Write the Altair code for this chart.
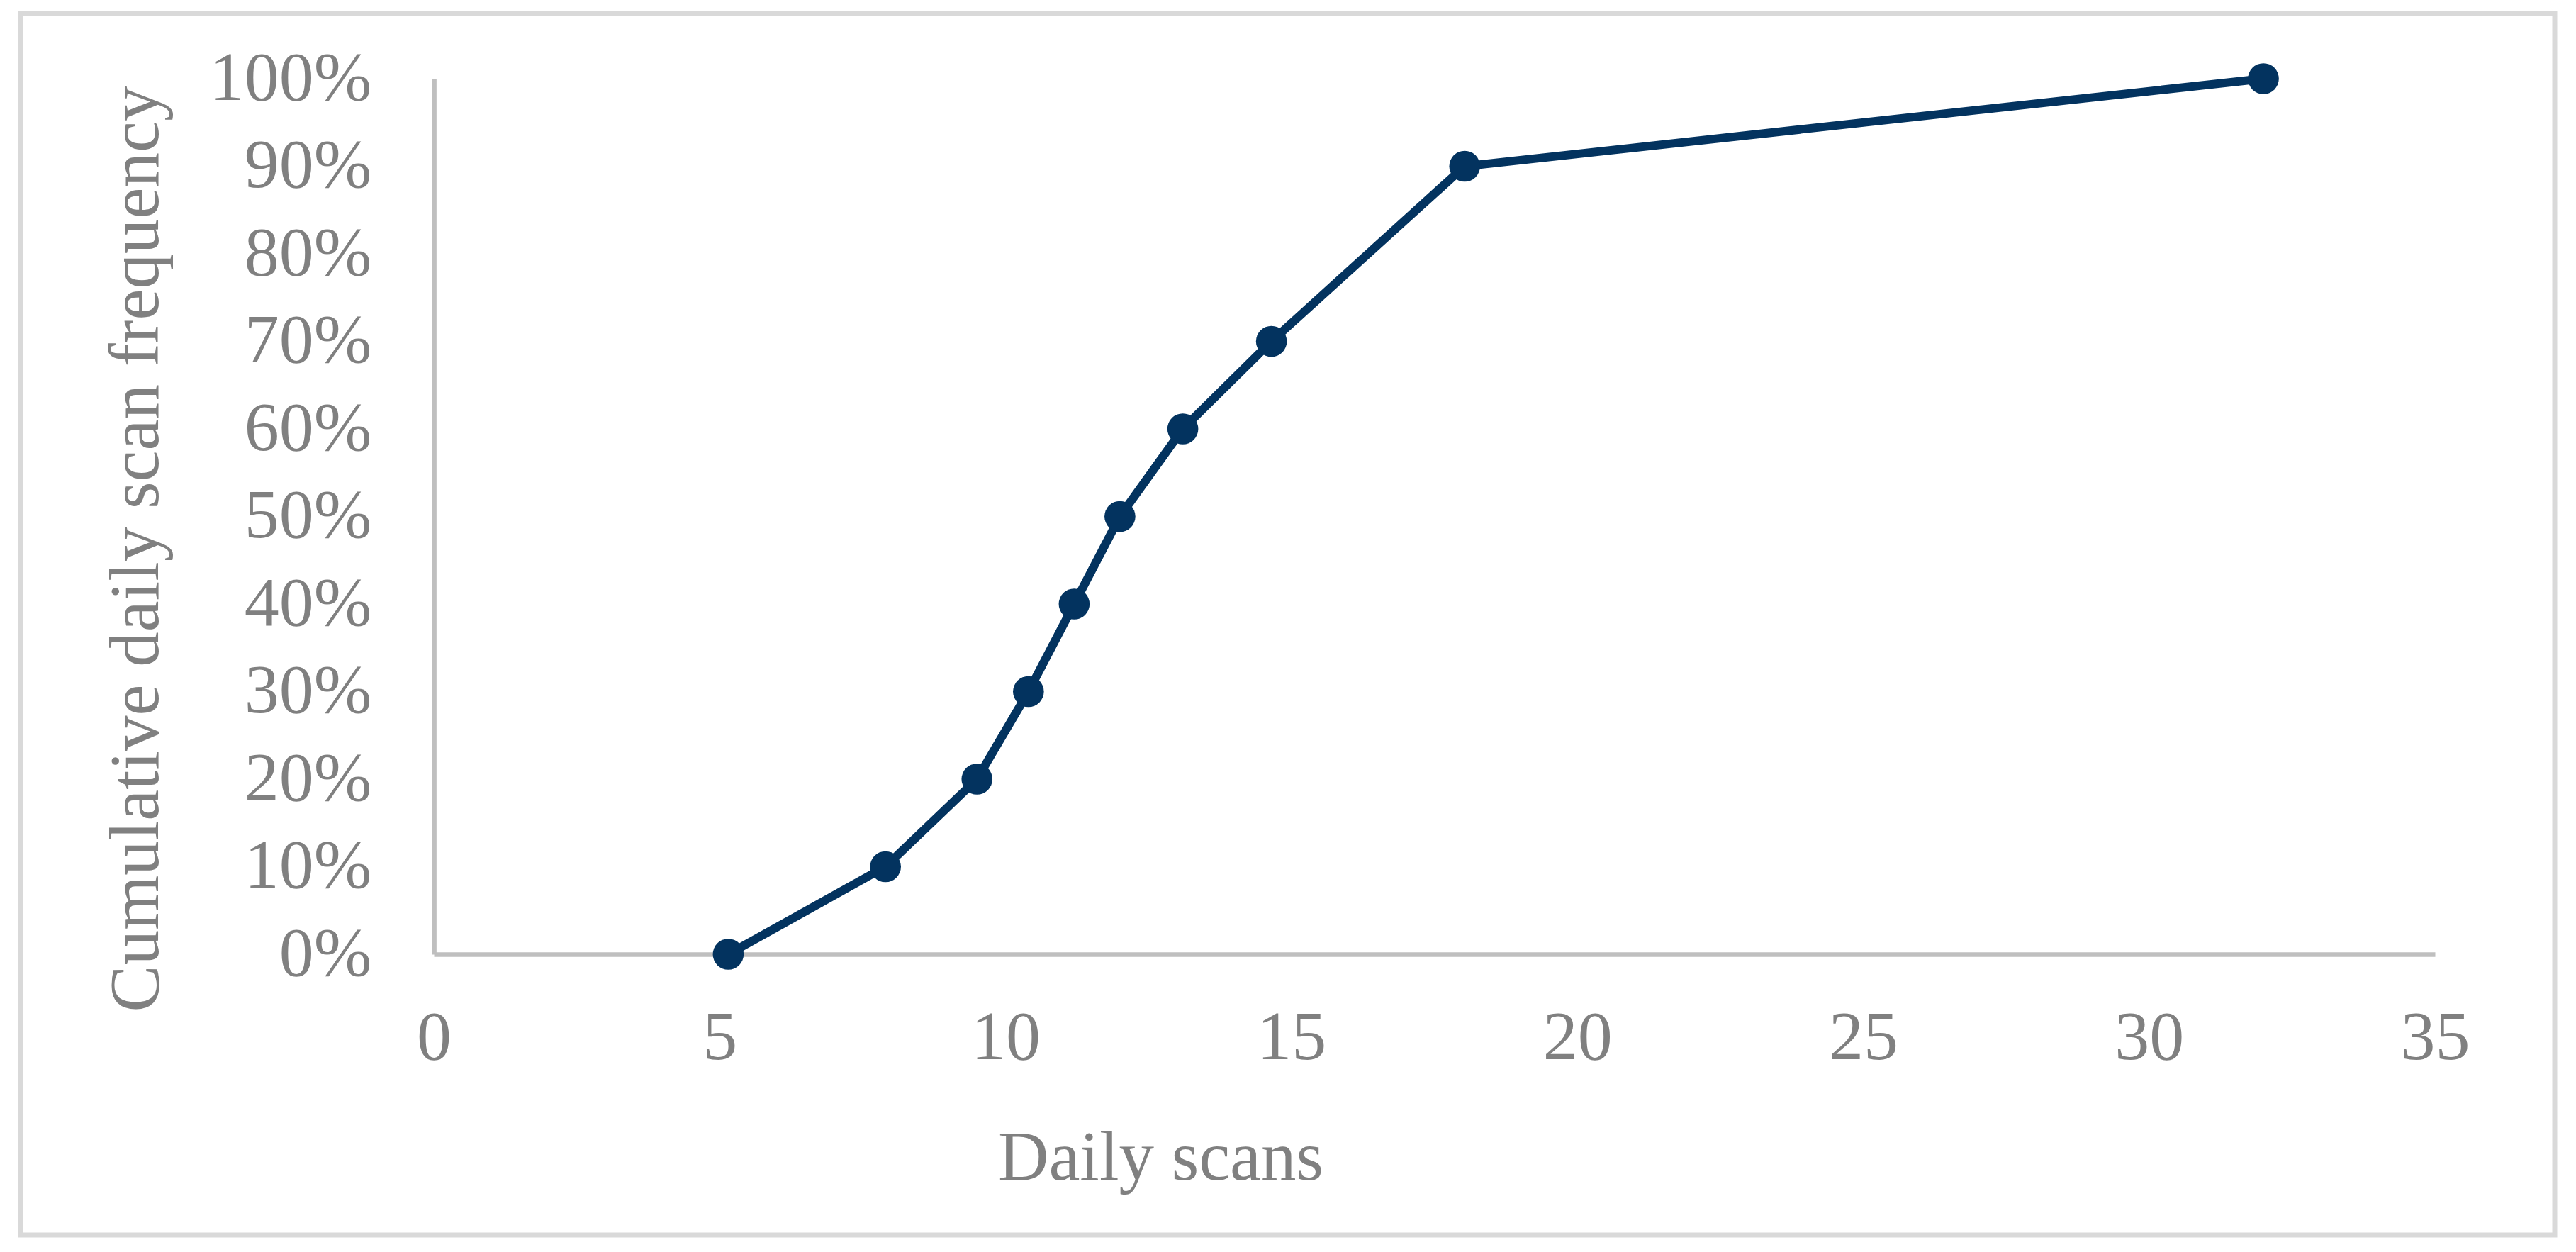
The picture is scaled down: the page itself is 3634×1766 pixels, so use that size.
import altair as alt
import pandas as pd

# Data
daily_scans = [5.15, 7.9, 9.5, 10.4, 11.2, 12.0, 13.1, 14.65, 18.03, 32.0]
cumulative_freq = [0.0, 0.1, 0.2, 0.3, 0.4, 0.5, 0.6, 0.7, 0.9, 1.0]
x_ticks = [0, 5, 10, 15, 20, 25, 30, 35]
y_ticks = [0.0, 0.1, 0.2, 0.3, 0.4, 0.5, 0.6, 0.7, 0.8, 0.9, 1.0]

df = pd.DataFrame({"scans": daily_scans, "freq": cumulative_freq})

FONT = "Liberation Serif"
TXT = "#808080"
AX = "#BFBFBF"
NAVY = "#03335F"

x_enc = alt.X(
    "scans:Q",
    scale=alt.Scale(domain=[0, 35], nice=False, zero=False),
    axis=alt.Axis(
        values=x_ticks, format="d", title="Daily scans", grid=False, ticks=False, tickSize=0,
        labelFont=FONT, labelFontSize=98, labelColor=TXT, labelPadding=70,
        labelBaseline="top", labelAlign="center", labelLimit=0, labelOverlap=False,
        domainColor=AX, domainWidth=6.7,
        titleFont=FONT, titleFontSize=99, titleFontWeight="normal", titleColor=TXT,
        titleX=1025, titleY=317, titleAlign="center", titleBaseline="alphabetic",
        titleAnchor="start", titleLimit=0,
    ),
)
y_enc = alt.Y(
    "freq:Q",
    scale=alt.Scale(domain=[0, 1], nice=False),
    axis=alt.Axis(
        values=y_ticks, format=".0%", title="Cumulative daily scan frequency",
        grid=False, ticks=False, tickSize=0,
        labelFont=FONT, labelFontSize=98, labelColor=TXT, labelPadding=88,
        labelAlign="right", labelBaseline="middle", labelLimit=0, labelOverlap=False,
        domainColor=AX, domainWidth=6.7,
        titleFont=FONT, titleFontSize=99, titleFontWeight="normal", titleColor=TXT,
        titleAngle=270, titleX=-390, titleY=663, titleAlign="center",
        titleBaseline="alphabetic", titleAnchor="start", titleLimit=0,
    ),
)

line = alt.Chart(df).mark_line(color=NAVY, strokeWidth=12).encode(x=x_enc, y=y_enc)
pts = alt.Chart(df).mark_circle(color=NAVY, size=1900, opacity=1).encode(x="scans:Q", y="freq:Q")

frame = alt.Chart(pd.DataFrame({"k": [0]})).mark_rect(
    fill=None, stroke="#D9D9D9", strokeWidth=7
).encode(
    x=alt.value(-583), x2=alt.value(2992), y=alt.value(-92), y2=alt.value(1631)
)

chart = alt.layer(frame, line, pts).properties(
    width=2823, height=1235,
    autosize=alt.AutoSizeParams(type="none"),
    padding={"left": 604, "top": 103, "right": 180, "bottom": 402},
).configure(background="white", view=alt.ViewConfig(stroke=None))

chart.save("out.html", embed_options={"renderer": "svg", "actions": False})
